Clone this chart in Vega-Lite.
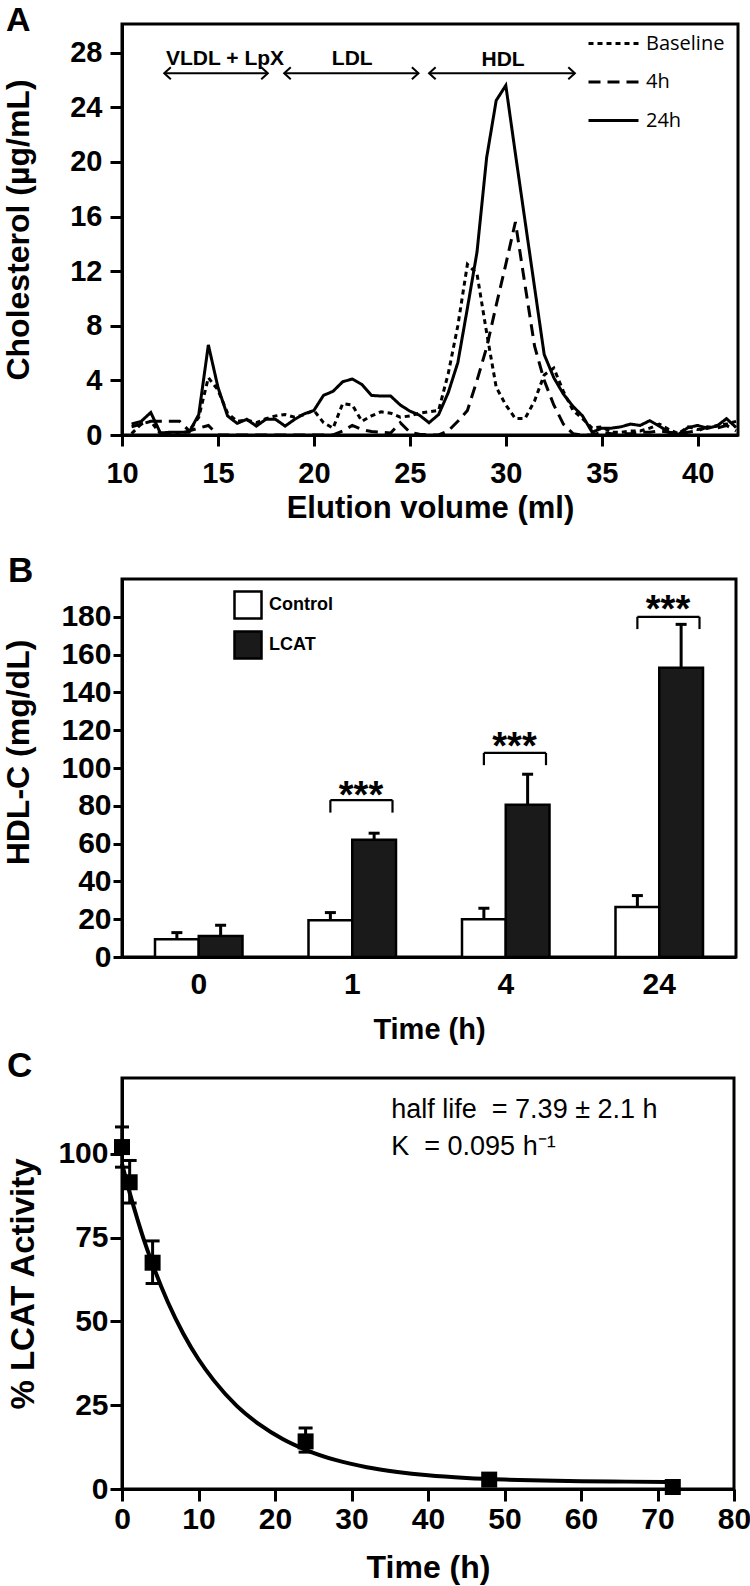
{
 "$schema": "https://vega.github.io/schema/vega-lite/v6.json",
 "background": "white",
 "padding": {"left": 0, "top": 2, "right": 0, "bottom": 0},
 "bounds": "flush",
 "spacing": 144,
 "config": {
  "view": {"stroke": "black", "strokeWidth": 3},
  "font": "Liberation Sans",
  "axis": {"grid": false, "domainColor": "black", "domainWidth": 3, "tickColor": "black", "tickWidth": 3, "tickSize": 11,
   "labelColor": "black", "titleColor": "black", "labelFont": "Liberation Sans", "titleFont": "Liberation Sans",
   "labelFontWeight": "bold", "titleFontWeight": "bold", "labelFontSize": 29, "titleFontSize": 31,
   "labelFlush": false, "labelOverlap": false},
  "title": {"font": "Liberation Sans", "fontWeight": "bold", "fontSize": 35, "anchor": "start", "frame": "group", "baseline": "alphabetic", "color": "black"}
 },
 "vconcat": [
  {
   "width": 616, "height": 411,
   "title": {"text": "A", "dx": -116, "offset": -14, "fontSize": 34},
   "layer": [
    {
     "data": {"values": [
      {"ml":10.5,"Baseline":0.1,"4h":0.6,"24h":0.8},
      {"ml":11.0,"Baseline":0.8,"4h":0.8,"24h":1.0},
      {"ml":11.5,"Baseline":1.0,"4h":1.0,"24h":1.65},
      {"ml":12.0,"Baseline":0.1,"4h":1.0,"24h":0.15},
      {"ml":12.5,"Baseline":0.1,"4h":1.0,"24h":0.2},
      {"ml":13.0,"Baseline":0.1,"4h":1.0,"24h":0.2},
      {"ml":13.5,"Baseline":0.3,"4h":0.3,"24h":0.2},
      {"ml":14.0,"Baseline":1.3,"4h":0.5,"24h":1.5},
      {"ml":14.5,"Baseline":4.2,"4h":0.7,"24h":6.6},
      {"ml":15.0,"Baseline":3.3,"4h":0.0,"24h":3.5},
      {"ml":15.5,"Baseline":1.6,"4h":0.0,"24h":1.4},
      {"ml":16.0,"Baseline":1.0,"4h":0.0,"24h":0.85},
      {"ml":16.5,"Baseline":1.1,"4h":0.0,"24h":1.15},
      {"ml":17.0,"Baseline":0.9,"4h":0.0,"24h":0.65},
      {"ml":17.5,"Baseline":1.2,"4h":0.0,"24h":1.15},
      {"ml":18.0,"Baseline":1.4,"4h":0.0,"24h":1.15},
      {"ml":18.5,"Baseline":1.5,"4h":0.0,"24h":0.65},
      {"ml":19.0,"Baseline":1.3,"4h":0.0,"24h":1.15},
      {"ml":19.5,"Baseline":1.5,"4h":0.0,"24h":1.55},
      {"ml":20.0,"Baseline":1.8,"4h":0.0,"24h":1.8},
      {"ml":20.5,"Baseline":0.9,"4h":0.0,"24h":2.9},
      {"ml":21.0,"Baseline":0.5,"4h":0.0,"24h":3.2},
      {"ml":21.5,"Baseline":2.3,"4h":0.3,"24h":3.9},
      {"ml":22.0,"Baseline":2.2,"4h":0.7,"24h":4.1},
      {"ml":22.5,"Baseline":1.0,"4h":0.4,"24h":3.7},
      {"ml":23.0,"Baseline":1.4,"4h":0.25,"24h":2.9},
      {"ml":23.5,"Baseline":1.7,"4h":0.2,"24h":2.85},
      {"ml":24.0,"Baseline":1.6,"4h":0.15,"24h":2.85},
      {"ml":24.5,"Baseline":1.3,"4h":0.9,"24h":2.2},
      {"ml":25.0,"Baseline":1.4,"4h":0.2,"24h":1.75},
      {"ml":25.5,"Baseline":1.6,"4h":0.05,"24h":1.45},
      {"ml":26.0,"Baseline":1.7,"4h":0.0,"24h":0.9},
      {"ml":26.5,"Baseline":1.8,"4h":0.0,"24h":1.5},
      {"ml":27.0,"Baseline":4.5,"4h":0.3,"24h":3.1},
      {"ml":27.5,"Baseline":8.0,"4h":1.0,"24h":5.3},
      {"ml":28.0,"Baseline":12.5,"4h":1.8,"24h":9.3},
      {"ml":28.5,"Baseline":11.8,"4h":4.0,"24h":13.4},
      {"ml":29.0,"Baseline":7.5,"4h":6.4,"24h":20.3},
      {"ml":29.5,"Baseline":3.5,"4h":9.5,"24h":24.5},
      {"ml":30.0,"Baseline":2.2,"4h":12.5,"24h":25.6},
      {"ml":30.5,"Baseline":1.2,"4h":15.6,"24h":20.6},
      {"ml":31.0,"Baseline":1.2,"4h":11.0,"24h":15.7},
      {"ml":31.5,"Baseline":2.5,"4h":6.5,"24h":10.8},
      {"ml":32.0,"Baseline":4.4,"4h":4.0,"24h":5.9},
      {"ml":32.5,"Baseline":4.9,"4h":2.2,"24h":4.2},
      {"ml":33.0,"Baseline":3.2,"4h":0.8,"24h":3.0},
      {"ml":33.5,"Baseline":1.8,"4h":0.1,"24h":2.1},
      {"ml":34.0,"Baseline":1.2,"4h":0.0,"24h":1.4},
      {"ml":34.5,"Baseline":0.5,"4h":0.0,"24h":0.2},
      {"ml":35.0,"Baseline":0.6,"4h":0.2,"24h":0.5},
      {"ml":35.5,"Baseline":0.2,"4h":0.1,"24h":0.5},
      {"ml":36.0,"Baseline":0.2,"4h":0.1,"24h":0.6},
      {"ml":36.5,"Baseline":0.3,"4h":0.1,"24h":0.8},
      {"ml":37.0,"Baseline":0.3,"4h":0.2,"24h":0.7},
      {"ml":37.5,"Baseline":0.5,"4h":0.2,"24h":1.05},
      {"ml":38.0,"Baseline":0.8,"4h":0.3,"24h":0.65},
      {"ml":38.5,"Baseline":0.4,"4h":0.2,"24h":0.2},
      {"ml":39.0,"Baseline":0.1,"4h":0.1,"24h":0.05},
      {"ml":39.5,"Baseline":0.6,"4h":0.2,"24h":0.55},
      {"ml":40.0,"Baseline":0.4,"4h":0.3,"24h":0.7},
      {"ml":40.5,"Baseline":0.5,"4h":0.6,"24h":0.5},
      {"ml":41.0,"Baseline":0.7,"4h":0.5,"24h":0.65},
      {"ml":41.5,"Baseline":0.8,"4h":0.7,"24h":1.2},
      {"ml":42.0,"Baseline":1.0,"4h":0.3,"24h":0.55}
     ]},
     "transform": [{"fold": ["Baseline", "4h", "24h"], "as": ["series", "chol"]}],
     "mark": {"type": "line", "color": "black", "strokeWidth": 3},
     "encoding": {
      "x": {"field": "ml", "type": "quantitative", "scale": {"domain": [10, 42.1], "nice": false, "zero": false},
       "axis": {"values": [10, 15, 20, 25, 30, 35, 40], "title": "Elution volume (ml)", "labelPadding": 13, "titleBaseline": "alphabetic", "titleY": 82, "titleFontSize": 31}},
      "y": {"field": "chol", "type": "quantitative", "scale": {"domain": [0, 30.1], "nice": false},
       "axis": {"values": [0, 4, 8, 12, 16, 20, 24, 28], "title": "Cholesterol (µg/mL)", "tickSize": 12, "labelPadding": 8, "titleX": -87, "titleFontSize": 32}},
      "strokeDash": {"field": "series", "type": "nominal",
       "scale": {"domain": ["Baseline", "4h", "24h"], "range": [[5, 4], [12, 7], [1, 0]]},
       "legend": {"orient": "none", "legendX": 465, "legendY": -7, "title": null, "symbolType": "stroke", "symbolSize": 2500,
        "symbolStrokeWidth": 3, "symbolStrokeColor": "black", "labelFont": "Open Sans", "labelFontSize": 20,
        "labelFontWeight": "normal", "labelColor": "black", "labelOffset": 6, "rowPadding": 1.5}}
     }
    },
    {
     "data": {"values": [
      {"a": 12.2, "b": 17.6, "y": 26.5},
      {"a": 18.45, "b": 25.45, "y": 26.5},
      {"a": 26.0, "b": 33.6, "y": 26.5}
     ]},
     "layer": [
      {"mark": {"type": "rule", "color": "black", "strokeWidth": 2},
       "encoding": {"x": {"field": "a", "type": "quantitative", "title": "Elution volume (ml)"}, "x2": {"field": "b"},
        "y": {"field": "y", "type": "quantitative", "title": "Cholesterol (µg/mL)"}}},
      {"mark": {"type": "point", "shape": "M1.1,-1L0,0L1.1,1", "size": 144, "filled": false, "stroke": "black", "strokeWidth": 2, "opacity": 1},
       "encoding": {"x": {"field": "a", "type": "quantitative", "title": "Elution volume (ml)"},
        "y": {"field": "y", "type": "quantitative", "title": "Cholesterol (µg/mL)"}}},
      {"mark": {"type": "point", "shape": "M-1.1,-1L0,0L-1.1,1", "size": 144, "filled": false, "stroke": "black", "strokeWidth": 2, "opacity": 1},
       "encoding": {"x": {"field": "b", "type": "quantitative", "title": "Elution volume (ml)"},
        "y": {"field": "y", "type": "quantitative", "title": "Cholesterol (µg/mL)"}}}
     ]
    },
    {
     "data": {"values": [
      {"x": 15.37, "y": 27.55, "lab": "VLDL + LpX"},
      {"x": 22.0, "y": 27.55, "lab": "LDL"},
      {"x": 29.86, "y": 27.45, "lab": "HDL"}
     ]},
     "mark": {"type": "text", "font": "Liberation Sans", "fontWeight": "bold", "fontSize": 21, "baseline": "middle", "align": "center", "color": "black"},
     "encoding": {"x": {"field": "x", "type": "quantitative", "title": "Elution volume (ml)"},
      "y": {"field": "y", "type": "quantitative", "title": "Cholesterol (µg/mL)"}, "text": {"field": "lab"}}
    }
   ]
  },
  {
   "bounds": "flush",
   "spacing": 121,
   "vconcat": [
    {
     "width": 614, "height": 378,
     "title": {"text": "B", "dx": -114, "offset": -10},
     "layer": [
      {
       "data": {"values": [
        {"t": "0", "g": "Control", "v": 9.4, "hi": 12.9},
        {"t": "0", "g": "LCAT", "v": 11.1, "hi": 16.8},
        {"t": "1", "g": "Control", "v": 19.4, "hi": 23.5},
        {"t": "1", "g": "LCAT", "v": 62, "hi": 65.5},
        {"t": "4", "g": "Control", "v": 20, "hi": 25.8},
        {"t": "4", "g": "LCAT", "v": 80.5, "hi": 96.7},
        {"t": "24", "g": "Control", "v": 26.5, "hi": 32.5},
        {"t": "24", "g": "LCAT", "v": 153, "hi": 176}
       ]},
       "encoding": {
        "x": {"field": "t", "type": "ordinal", "sort": ["0", "1", "4", "24"], "scale": {"paddingInner": 0.43, "paddingOuter": 0.215},
         "axis": {"title": "Time (h)", "ticks": false, "labelPadding": 12, "labelAngle": 0, "labelFontSize": 30, "titleBaseline": "alphabetic", "titleY": 81, "titleFontSize": 29}},
        "xOffset": {"field": "g", "type": "nominal", "sort": ["Control", "LCAT"]}
       },
       "layer": [
        {"mark": {"type": "rule", "color": "black", "strokeWidth": 3},
         "encoding": {"y": {"field": "v", "type": "quantitative", "title": "HDL-C (mg/dL)"}, "y2": {"field": "hi"}}},
        {"mark": {"type": "point", "shape": "stroke", "size": 121, "filled": false, "stroke": "black", "strokeWidth": 3, "opacity": 1},
         "encoding": {"y": {"field": "hi", "type": "quantitative", "title": "HDL-C (mg/dL)"}}},
        {"mark": {"type": "bar", "stroke": "black", "strokeWidth": 2.5},
         "encoding": {
          "y": {"field": "v", "type": "quantitative", "scale": {"domain": [0, 200], "nice": false},
           "axis": {"values": [0, 20, 40, 60, 80, 100, 120, 140, 160, 180], "title": "HDL-C (mg/dL)", "labelFontSize": 30, "tickSize": 9, "labelPadding": 2, "titleX": -87, "titleY": 173, "titleFontSize": 32}},
          "fill": {"field": "g", "type": "nominal", "scale": {"domain": ["Control", "LCAT"], "range": ["white", "#1a1a1a"]},
           "legend": {"orient": "none", "legendX": 111, "legendY": 566, "title": null, "symbolType": "square", "symbolSize": 729,
            "symbolStrokeColor": "black", "symbolStrokeWidth": 2.5, "labelFont": "Liberation Sans", "labelFontWeight": "bold",
            "labelFontSize": 18, "labelColor": "black", "labelOffset": 6, "rowPadding": 2}}
         }}
       ]
      },
      {
       "data": {"values": [
        {"t": "1", "lo": 76.4, "top": 83, "st": 79},
        {"t": "4", "lo": 101.5, "top": 108, "st": 105},
        {"t": "24", "lo": 173.5, "top": 180, "st": 177}
       ]},
       "layer": [
        {"mark": {"type": "rule", "color": "black", "strokeWidth": 2.2},
         "encoding": {"x": {"field": "t", "type": "ordinal", "sort": ["0", "1", "4", "24"], "bandPosition": 0.25, "title": "Time (h)"},
          "x2": {"field": "t", "bandPosition": 0.96},
          "y": {"field": "top", "type": "quantitative", "title": "HDL-C (mg/dL)"}}},
        {"mark": {"type": "rule", "color": "black", "strokeWidth": 2.2},
         "encoding": {"x": {"field": "t", "type": "ordinal", "sort": ["0", "1", "4", "24"], "bandPosition": 0.25, "title": "Time (h)"},
          "y": {"field": "lo", "type": "quantitative", "title": "HDL-C (mg/dL)"}, "y2": {"field": "top"}}},
        {"mark": {"type": "rule", "color": "black", "strokeWidth": 2.2},
         "encoding": {"x": {"field": "t", "type": "ordinal", "sort": ["0", "1", "4", "24"], "bandPosition": 0.96, "title": "Time (h)"},
          "y": {"field": "lo", "type": "quantitative", "title": "HDL-C (mg/dL)"}, "y2": {"field": "top"}}},
        {"mark": {"type": "text", "text": "***", "font": "Liberation Sans", "fontWeight": "bold", "fontSize": 38, "baseline": "alphabetic", "align": "center", "color": "black"},
         "encoding": {"x": {"field": "t", "type": "ordinal", "sort": ["0", "1", "4", "24"], "bandPosition": 0.6, "title": "Time (h)"},
          "y": {"field": "st", "type": "quantitative", "title": "HDL-C (mg/dL)"}}}
       ]
      }
     ]
    },
    {
     "width": 612, "height": 411,
     "title": {"text": "C", "dx": -115, "offset": -6},
     "layer": [
      {
       "data": {"values": [
        {"t": 0, "fit": 97}, {"t": 1, "fit": 88.4}, {"t": 2, "fit": 80.6}, {"t": 3, "fit": 73.4},
        {"t": 4, "fit": 67.0}, {"t": 6, "fit": 55.7}, {"t": 8, "fit": 46.4}, {"t": 10, "fit": 38.7},
        {"t": 12, "fit": 32.4}, {"t": 15, "fit": 24.8}, {"t": 18, "fit": 19.2}, {"t": 21, "fit": 14.9},
        {"t": 24, "fit": 11.7}, {"t": 28, "fit": 8.6}, {"t": 32, "fit": 6.5}, {"t": 36, "fit": 5.1},
        {"t": 40, "fit": 4.1}, {"t": 45, "fit": 3.3}, {"t": 50, "fit": 2.8}, {"t": 55, "fit": 2.5},
        {"t": 60, "fit": 2.3}, {"t": 66, "fit": 2.2}, {"t": 72, "fit": 2.1}
       ]},
       "mark": {"type": "line", "color": "black", "strokeWidth": 4, "interpolate": "monotone"},
       "encoding": {
        "x": {"field": "t", "type": "quantitative", "scale": {"domain": [0, 80], "nice": false},
         "axis": {"values": [0, 10, 20, 30, 40, 50, 60, 70, 80], "title": "Time (h)", "tickSize": 12, "labelPadding": 3, "labelFontSize": 30, "titleFontSize": 32, "titleBaseline": "alphabetic", "titleY": 88}},
        "y": {"field": "fit", "type": "quantitative", "scale": {"domain": [0, 122.6], "nice": false},
         "axis": {"values": [0, 25, 50, 75, 100], "title": "% LCAT Activity", "tickSize": 12, "labelPadding": 2, "labelFontSize": 30, "titleFontSize": 33, "titleX": -82}}
       }
      },
      {
       "data": {"values": [
        {"t": 0, "v": 102, "lo": 96, "hi": 108},
        {"t": 1, "v": 91.5, "lo": 85.3, "hi": 98},
        {"t": 4, "v": 67.5, "lo": 61.3, "hi": 74},
        {"t": 24, "v": 14.2, "lo": 11, "hi": 18.2},
        {"t": 48, "v": 2.8, "lo": 2, "hi": 3.6},
        {"t": 72, "v": 0.6, "lo": 0.2, "hi": 1}
       ]},
       "layer": [
        {"mark": {"type": "rule", "color": "black", "strokeWidth": 3},
         "encoding": {"x": {"field": "t", "type": "quantitative", "title": "Time (h)"},
          "y": {"field": "lo", "type": "quantitative", "title": "% LCAT Activity"}, "y2": {"field": "hi"}}},
        {"transform": [{"fold": ["lo", "hi"], "as": ["end", "ev"]}],
         "mark": {"type": "point", "shape": "stroke", "size": 196, "filled": false, "stroke": "black", "strokeWidth": 3, "opacity": 1},
         "encoding": {"x": {"field": "t", "type": "quantitative", "title": "Time (h)"},
          "y": {"field": "ev", "type": "quantitative", "title": "% LCAT Activity"}}},
        {"mark": {"type": "point", "shape": "square", "size": 256, "filled": true, "color": "black", "opacity": 1},
         "encoding": {"x": {"field": "t", "type": "quantitative", "title": "Time (h)"},
          "y": {"field": "v", "type": "quantitative", "title": "% LCAT Activity"}}}
       ]
      },
      {
       "data": {"values": [
        {"t": 35.2, "v": 113, "txt": "half life \u00a0= 7.39 ± 2.1 h"},
        {"t": 35.2, "v": 102, "txt": "K \u00a0= 0.095 h⁻¹"}
       ]},
       "mark": {"type": "text", "font": "Liberation Sans", "fontSize": 27, "align": "left", "baseline": "middle", "color": "black"},
       "encoding": {"x": {"field": "t", "type": "quantitative", "title": "Time (h)"},
        "y": {"field": "v", "type": "quantitative", "title": "% LCAT Activity"}, "text": {"field": "txt"}}
      }
     ]
    }
   ]
  }
 ]
}
